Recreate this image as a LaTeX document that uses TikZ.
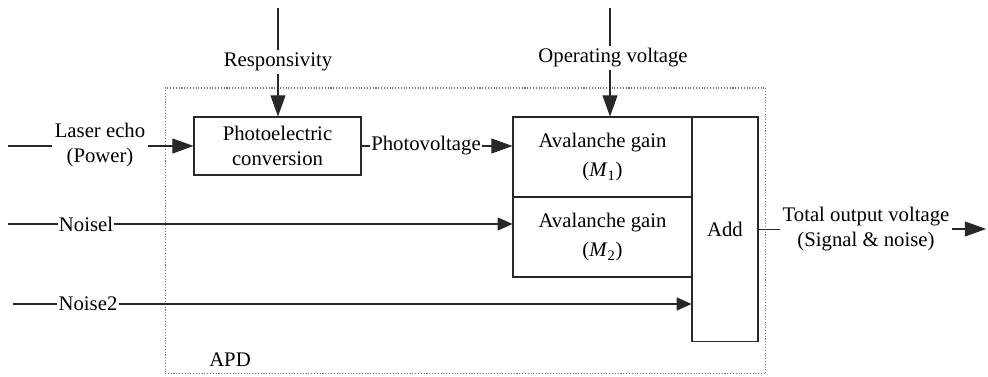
\documentclass[tikz,border=0pt]{standalone}
\usepackage{fontspec}
\setmainfont{Liberation Serif}
\usepackage{tikz}
\usetikzlibrary{arrows.meta,positioning,calc}
\definecolor{figline}{RGB}{40,40,40}
\definecolor{figdot}{RGB}{120,120,120}
\tikzset{
  blockbox/.style={draw=figline, line width=0.6pt, fill=white, align=center, inner sep=2pt, font=\fontsize{11.8}{14}\selectfont},
  apdbox/.style={draw=figdot, densely dotted, line width=0.6pt},
  figlabel/.style={inner sep=1.5pt, align=center, font=\fontsize{11.8}{14}\selectfont},
  wire/.style={draw=figline, line width=0.6pt},
  line/.style={-{Triangle[length=12pt,width=8.5pt]}, draw=figline, line width=0.6pt},
  thinline/.style={-{Triangle[length=8.5pt,width=7.5pt]}, draw=figline, line width=0.6pt}
}
\begin{document}
\begin{tikzpicture}[x=0.02cm,y=-0.02cm]
  \useasboundingbox (0,0) rectangle (988,377);

  \node[apdbox, minimum width=12.02cm, minimum height=5.72cm] (apd) at (465.5,231) {};
  \node[figlabel] (apdLabel) at (230,360) {APD};

  \node[blockbox, minimum width=3.34cm, minimum height=1.16cm] (photo) at (277.5,146) {Photoelectric\\conversion};
  \node[blockbox, minimum width=3.58cm, minimum height=1.6cm] (gain1) at (602.5,157) {Avalanche gain\\[3pt](\textit{M}\textsubscript{1})};
  \node[blockbox, minimum width=3.58cm, minimum height=1.6cm] (gain2) at (602.5,237) {Avalanche gain\\[3pt](\textit{M}\textsubscript{2})};
  \node[blockbox, minimum width=1.32cm, minimum height=4.5cm] (adder) at (725,229.5) {Add};

  \node[figlabel] (resp) at (278,62) {Responsivity};
  \node[figlabel] (opvolt) at (613,58) {Operating voltage};
  \node[figlabel] (laser) at (100,145) {Laser echo\\(Power)};
  \node[figlabel, inner sep=0.5pt] (photovolt) at (426,146) {Photovoltage};
  \node[figlabel, inner sep=0.5pt] (noise1) at (86,224) {Noisel};
  \node[figlabel, inner sep=0.5pt] (noise2) at (88,304) {Noise2};
  \node[figlabel] (total) at (866,229) {Total output voltage\\(Signal \& noise)};

  \coordinate (respTop) at (278,8);
  \coordinate (opTop) at (610,8);
  \coordinate (laserIn) at (8,146);
  \coordinate (noise1In) at (8,224);
  \coordinate (noise2In) at (13,304);
  \coordinate (outEnd) at (986,229);

  \draw[wire] (respTop) -- (resp.north -| respTop);
  \draw[line] (resp.south -| respTop) -- (photo.north -| respTop);
  \draw[wire] (opTop) -- (opvolt.north -| opTop);
  \draw[line] (opvolt.south -| opTop) -- (gain1.north -| opTop);
  \draw[wire] (laserIn) -- (laserIn -| laser.west);
  \draw[line] (laserIn -| laser.east) -- (laserIn -| photo.west);
  \draw[wire] (photo.east) -- (photovolt.west);
  \draw[line] (photovolt.east) -- (photovolt.east -| gain1.west);
  \draw[wire] (noise1In) -- (noise1.west);
  \draw[thinline] (noise1.east) -- (noise1.east -| gain2.west);
  \draw[wire] (noise2In) -- (noise2.west);
  \draw[thinline] (noise2.east) -- (noise2.east -| adder.west);
  \draw[wire] (adder.east) -- (adder.east -| total.west);
  \draw[line] (outEnd -| total.east) -- (outEnd);
\end{tikzpicture}
\end{document}
